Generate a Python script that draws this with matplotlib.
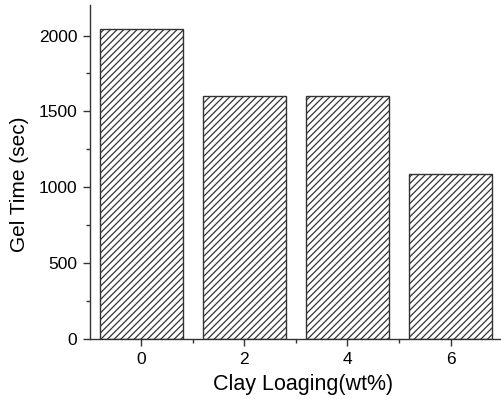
import matplotlib
matplotlib.use("Agg")
import matplotlib.pyplot as plt
from matplotlib.ticker import MultipleLocator

categories = ["0", "2", "4", "6"]
gel_time = [2040, 1605, 1605, 1090]

plt.rcParams['font.family'] = ['Liberation Sans', 'DejaVu Sans']
plt.rcParams['hatch.linewidth'] = 0.9

fig = plt.figure(figsize=(5.02, 3.99), dpi=100)
ax = fig.add_axes([0.179, 0.150, 0.817, 0.837])

x = range(len(categories))
ax.bar(x, gel_time, width=0.8, color='white', edgecolor='#333333',
       linewidth=1.0, hatch='/////')

ax.set_xlim(-0.5, 3.48)
ax.set_ylim(0, 2200)
ax.set_xticks(list(x))
ax.set_xticklabels(categories)
ax.set_xticks([0.5, 1.5, 2.5], minor=True)
ax.yaxis.set_major_locator(MultipleLocator(500))
ax.yaxis.set_minor_locator(MultipleLocator(250))

for s in ['top', 'right']:
    ax.spines[s].set_visible(False)
for s in ['left', 'bottom']:
    ax.spines[s].set_linewidth(1.0)
    ax.spines[s].set_color('#333333')

ax.tick_params(axis='both', which='major', direction='out', length=5,
               width=1.0, labelsize=12.5, color='#333333', pad=4)
ax.tick_params(axis='both', which='minor', direction='out', length=3,
               width=1.0, color='#333333')

ax.set_xlabel("Clay Loaging(wt%)", fontsize=15.5, labelpad=5)
ax.set_ylabel("Gel Time (sec)", fontsize=15, labelpad=7)
ax.xaxis.label.set_x(0.52)
ax.yaxis.label.set_y(0.463)

fig.savefig("out.png", dpi=100)
